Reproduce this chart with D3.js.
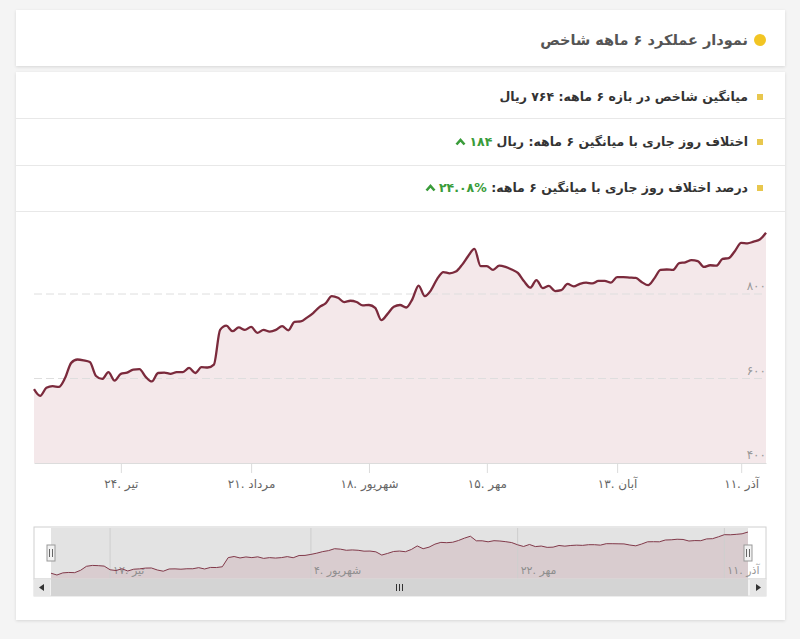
<!DOCTYPE html>
<html lang="fa">
<head>
<meta charset="utf-8">
<script src="https://cdn.jsdelivr.net/npm/d3@7"></script>
<style>
  body { margin: 0; width: 800px; height: 639px; background: #f4f4f4; position: relative; overflow: hidden;
         font-family: "DejaVu Sans", "Noto Sans", sans-serif; }
  .card { position: absolute; background: #fff; box-shadow: 0 1px 3px rgba(0,0,0,0.12); }
  .row { position: absolute; right: 52px; direction: rtl; font-size: 12.5px; font-weight: bold; color: #333;
         line-height: 18px; white-space: nowrap; }
  .green { color: #3a9c3a; }
  .sq { position: absolute; width: 6px; height: 6px; background: #e8c74e; }
  .sep { position: absolute; left: 16px; width: 769px; height: 1px; background: #e8e8e8; }
  svg.chart { position: absolute; left: 0; top: 0; }
</style>
</head>
<body>
<script>
// values (one per trading day)
const values = [
  575, 559, 578, 582, 580, 601, 637, 645, 643, 639,
  606, 599, 615, 595, 611, 614, 621, 622, 604, 593,
  613, 614, 611, 615, 615, 625, 613, 627, 626, 633,
  715, 725, 712, 721, 715, 722, 708, 715, 711, 715,
  724, 714, 734, 735, 744, 755, 769, 778, 795, 791,
  781, 784, 781, 773, 774, 767, 738, 753, 770, 774,
  768, 788, 820, 795, 809, 836, 852, 849, 853, 869,
  890, 907, 866, 866, 857, 867, 864, 858, 850, 830,
  815, 833, 814, 819, 807, 809, 824, 818, 824, 827,
  825, 831, 831, 827, 840, 840, 839, 838, 828, 821,
  837, 857, 858, 857, 873, 875, 880, 878, 864, 868,
  867, 883, 885, 902, 921, 920, 924, 929, 945
];
const tickIdx = [14, 35, 54, 73, 94, 114];
const tickLabels = ["۲۴. تیر", "۲۱. مرداد", "۱۸. شهریور", "۱۵. مهر", "۱۳. آبان", "۱۱. آذر"];
const navTickIdx = [10, 44, 79, 114];
const navTickLabels = ["۱۷. تیر", "۴. شهریور", "۲۲. مهر", "۱۱. آذر"];
const yTicks = [400, 600, 800];

const chevron = '<svg width="11" height="8" style="margin-right:3px;vertical-align:0px"><path d="M1.5 6.5 L5.5 2 L9.5 6.5" stroke="#3a9c3a" stroke-width="2.6" fill="none"/></svg>';

const body = d3.select("body");

// cards
body.append("div").attr("class", "card")
  .style("left", "16px").style("top", "10px").style("width", "769px").style("height", "56px");
body.append("div").attr("class", "card")
  .style("left", "16px").style("top", "72px").style("width", "769px").style("height", "548px");

// header
body.append("div")
  .style("position", "absolute").style("left", "754px").style("top", "34px")
  .style("width", "12px").style("height", "12px").style("border-radius", "50%")
  .style("background", "#f2c523");
body.append("div").attr("class", "row")
  .style("top", "30px").style("font-size", "14.5px").style("color", "#555").style("line-height", "20px")
  .text("نمودار عملکرد ۶ ماهه شاخص");

// info rows
const rows = [
  "میانگین شاخص در بازه ۶ ماهه: ۷۶۴ ریال",
  "اختلاف روز جاری با میانگین ۶ ماهه: ریال <span class='green'>۱۸۴</span>" + chevron,
  "درصد اختلاف روز جاری با میانگین ۶ ماهه: <span class='green'><bdi dir='ltr'>۲۴.۰۸%</bdi></span>" + chevron
];
const rowY = [97, 142, 188];
rows.forEach((r, i) => {
  body.append("div").attr("class", "row").style("top", (rowY[i] - 9) + "px").html(r);
  body.append("div").attr("class", "sq").style("left", "757px").style("top", (rowY[i] - 3) + "px");
});
[118, 165, 211].forEach(y => body.append("div").attr("class", "sep").style("top", y + "px"));

// chart
const svg = body.append("svg").attr("class", "chart").attr("width", 800).attr("height", 639);

const N = values.length;
const x = d3.scaleLinear().domain([0, N - 1]).range([34, 766]);
const y = d3.scaleLinear().domain([400, 800]).range([463, 294]);

const area = d3.area().x((d, i) => x(i)).y0(y(400)).y1(d => y(d)).curve(d3.curveMonotoneX);
const line = d3.line().x((d, i) => x(i)).y(d => y(d)).curve(d3.curveMonotoneX);

svg.append("path").datum(values).attr("d", area).attr("fill", "#f4e8ea");

// grid (over the fill)
svg.append("g").selectAll("line")
  .data(yTicks.filter(d => d > 400))
  .enter().append("line")
  .attr("x1", 34).attr("x2", 766)
  .attr("y1", d => y(d)).attr("y2", d => y(d))
  .attr("stroke", "#dedede").attr("stroke-dasharray", "8,4");

svg.append("path").datum(values).attr("d", line)
  .attr("fill", "none").attr("stroke", "#7b2a3c").attr("stroke-width", 2.3).attr("stroke-linejoin", "round");

// y labels (inside, right)
svg.append("g").selectAll("text")
  .data(yTicks)
  .enter().append("text")
  .attr("x", 766).attr("y", d => y(d) - 4)
  .attr("text-anchor", "end")
  .attr("fill", "#999").style("font-size", "12px")
  .text(d => d3.format("d")(d).replace(/\d/g, c => "۰۱۲۳۴۵۶۷۸۹"[c]));

// x axis
const xAxis = svg.append("g")
  .attr("transform", "translate(0," + y(400) + ")")
  .call(d3.axisBottom(x).tickValues(tickIdx).tickFormat((d, i) => tickLabels[i]).tickSize(10).tickSizeOuter(0).tickPadding(6));
xAxis.select(".domain").attr("stroke", "#dcdcdc");
xAxis.selectAll(".tick line").attr("stroke", "#dcdcdc");
xAxis.selectAll(".tick text").attr("fill", "#666").style("font-size", "12px")
  .style("font-family", "DejaVu Sans").attr("direction", "ltr");

// navigator
const nx = d3.scaleLinear().domain([0, N - 1]).range([51, 748]);
const ny = d3.scaleLinear().domain(d3.extent(values)).range([575, 532]);
const nav = svg.append("g");

nav.append("rect").attr("x", 34).attr("y", 527).attr("width", 732).attr("height", 52)
  .attr("fill", "#fff").attr("stroke", "#d0d0d0");

const navArea = d3.area().x((d, i) => nx(i)).y0(579).y1(d => ny(d));
const navLine = d3.line().x((d, i) => nx(i)).y(d => ny(d));
nav.append("path").datum(values).attr("d", navArea).attr("fill", "#f3e4e7");

nav.selectAll("line.grid")
  .data(navTickIdx)
  .enter().append("line")
  .attr("x1", d => nx(d)).attr("x2", d => nx(d))
  .attr("y1", 528).attr("y2", 579)
  .attr("stroke", "#e6e6e6");

nav.selectAll("text.lbl")
  .data(navTickIdx)
  .enter().append("text")
  .attr("x", d => nx(d) + 3).attr("y", 574)
  .attr("fill", "#999").style("font-size", "11px").attr("direction", "ltr")
  .text((d, i) => navTickLabels[i]);

nav.append("path").datum(values).attr("d", navLine)
  .attr("fill", "none").attr("stroke", "#8a3347").attr("stroke-width", 1);

// selected range mask
nav.append("rect").attr("x", nx(0)).attr("y", 528).attr("width", nx(N - 1) - nx(0)).attr("height", 51)
  .attr("fill", "rgba(90,90,90,0.17)");

// handles
[nx(0), nx(N - 1)].forEach(hx => {
  const h = nav.append("g").attr("transform", "translate(" + hx + ",553)");
  h.append("rect").attr("x", -4).attr("y", -8).attr("width", 8).attr("height", 16)
    .attr("fill", "#f2f2f2").attr("stroke", "#999");
  h.append("line").attr("x1", -1.5).attr("x2", -1.5).attr("y1", -4).attr("y2", 4).attr("stroke", "#666");
  h.append("line").attr("x1", 1.5).attr("x2", 1.5).attr("y1", -4).attr("y2", 4).attr("stroke", "#666");
});

// scrollbar
const sb = svg.append("g");
sb.append("rect").attr("x", 34).attr("y", 579).attr("width", 732).attr("height", 17)
  .attr("fill", "#f2f2f2").attr("stroke", "#dcdcdc");
sb.append("rect").attr("x", nx(0)).attr("y", 579).attr("width", nx(N - 1) - nx(0)).attr("height", 17)
  .attr("fill", "#d4d4d4");
sb.append("rect").attr("x", 34).attr("y", 579).attr("width", 16).attr("height", 17).attr("fill", "#e6e6e6");
sb.append("rect").attr("x", 750).attr("y", 579).attr("width", 16).attr("height", 17).attr("fill", "#e6e6e6");
sb.append("path").attr("d", "M44,584 L39,587.5 L44,591 Z").attr("fill", "#333");
sb.append("path").attr("d", "M756,584 L761,587.5 L756,591 Z").attr("fill", "#333");
const mid = (nx(0) + nx(N - 1)) / 2;
[-3, 0, 3].forEach(o => sb.append("line")
  .attr("x1", mid + o).attr("x2", mid + o).attr("y1", 584).attr("y2", 591).attr("stroke", "#333"));
</script>
</body>
</html>
